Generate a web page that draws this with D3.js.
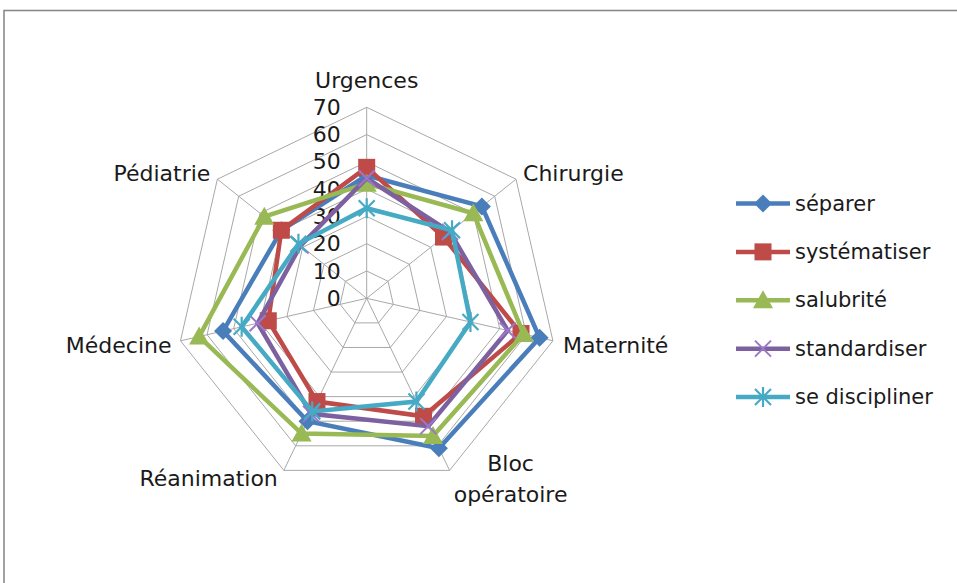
<!DOCTYPE html>
<html>
<head>
<meta charset="utf-8">
<script src="https://cdn.jsdelivr.net/npm/d3@7"></script>
<style>
  html, body { margin: 0; padding: 0; background: #fff; }
  svg { display: block; }
  text { font-family: "DejaVu Sans", sans-serif; fill: #1a1a1a; }
</style>
</head>
<body>
<script>
// Hospital services (radar axes)
const categories = ["Urgences", "Chirurgie", "Maternité", "Bloc opératoire", "Réanimation", "Médecine", "Pédiatrie"];
// Scores per service, one array per series
const separer       = [45, 54, 65, 61, 50, 54, 40];
const systematiser  = [48, 36, 58, 48, 42, 37, 40];
const salubrite     = [42, 50, 59, 56, 55, 63, 48];
const standardiser  = [44, 39, 53, 52, 47, 41, 31];
const seDiscipliner = [33, 40, 39, 42, 46, 47, 32];
const seriesNames = ["séparer", "systématiser", "salubrité", "standardiser", "se discipliner"];
const tickValues = [0, 10, 20, 30, 40, 50, 60, 70];

const series = [
  { name: seriesNames[0], values: separer,       color: "#4a7ebb", marker: "diamond" },
  { name: seriesNames[1], values: systematiser,  color: "#be4b48", marker: "square" },
  { name: seriesNames[2], values: salubrite,     color: "#98b954", marker: "triangle" },
  { name: seriesNames[3], values: standardiser,  color: "#7d60a0", marker: "cross" },
  { name: seriesNames[4], values: seDiscipliner, color: "#46aac5", marker: "star" }
];

const W = 957, H = 583;
const cx = 366.7, cy = 298.3;
const svg = d3.select("body").append("svg").attr("width", W).attr("height", H);

// chart frame
svg.append("rect").attr("x", 4).attr("y", 10.5).attr("width", 1000).attr("height", 700)
  .attr("fill", "#fff").attr("stroke", "#8a8a8a").attr("stroke-width", 1.6);

const r = d3.scaleLinear().domain([0, 70]).range([0, 191]);
const angle = d3.scaleLinear().domain([0, categories.length]).range([0, 2 * Math.PI]);
const pt = (i, v) => [cx + r(v) * Math.sin(angle(i)), cy - r(v) * Math.cos(angle(i))];

const g = svg.append("g");

// grid rings
const ring = d3.line();
tickValues.slice(1).forEach(t => {
  const pts = categories.map((c, i) => pt(i, t));
  g.append("path").attr("d", ring(pts) + "Z")
    .attr("fill", "none").attr("stroke", "#a8a8a8").attr("stroke-width", 1);
});
// spokes
categories.forEach((c, i) => {
  const [x, y] = pt(i, 70);
  g.append("line").attr("x1", cx).attr("y1", cy).attr("x2", x).attr("y2", y)
    .attr("stroke", "#a8a8a8").attr("stroke-width", 1);
});

// radial tick labels
tickValues.forEach(t => {
  g.append("text").attr("x", cx - 26).attr("y", cy - r(t))
    .attr("text-anchor", "end").attr("dominant-baseline", "central")
    .attr("font-size", 22).text(t);
});

// category labels
const labelPos = [
  { dx: 0,   dy: -27, anchor: "middle" },
  { dx: 7,   dy: -6,  anchor: "start" },
  { dx: 10,  dy: 4,   anchor: "start" },
  { dx: 61,  dy: -7,  anchor: "middle" },
  { dx: -6,  dy: 8,   anchor: "end" },
  { dx: -9,  dy: 4,   anchor: "end" },
  { dx: -7,  dy: -6,  anchor: "end" }
];
categories.forEach((c, i) => {
  const [x, y] = pt(i, 70);
  const p = labelPos[i];
  const words = c === "Bloc opératoire" ? ["Bloc", "opératoire"] : [c];
  const t = g.append("text").attr("x", x + p.dx).attr("y", y + p.dy)
    .attr("text-anchor", p.anchor).attr("dominant-baseline", "central").attr("font-size", 22);
  words.forEach((w, k) => {
    t.append("tspan").attr("x", x + p.dx).attr("dy", k === 0 ? 0 : 31).text(w);
  });
});

// marker drawing
function drawMarker(sel, type, color, x, y) {
  const m = sel.append("g").attr("transform", `translate(${x},${y})`);
  if (type === "diamond") {
    m.append("path").attr("d", "M0,-9L9,0L0,9L-9,0Z").attr("fill", color);
  } else if (type === "square") {
    m.append("rect").attr("x", -8.5).attr("y", -8.5).attr("width", 17).attr("height", 17).attr("fill", color);
  } else if (type === "triangle") {
    m.append("path").attr("d", "M0,-10L10,8L-10,8Z").attr("fill", color);
  } else if (type === "cross") {
    m.append("path").attr("d", "M-8,-8L8,8M8,-8L-8,8").attr("stroke", d3.color(color).brighter(0.6)).attr("stroke-width", 2);
  } else if (type === "star") {
    m.append("path").attr("d", "M-8,-8L8,8M8,-8L-8,8M0,-10L0,10").attr("stroke", color).attr("stroke-width", 2.2);
  }
}

// series polygons
const line = d3.line();
series.forEach(s => {
  const pts = s.values.map((v, i) => pt(i, v));
  g.append("path").attr("d", line(pts) + "Z")
    .attr("fill", "none").attr("stroke", s.color).attr("stroke-width", 4.5)
    .attr("stroke-linejoin", "miter");
  pts.forEach(p => drawMarker(g, s.marker, s.color, p[0], p[1]));
});

// legend
const legendY = d3.scaleLinear().domain([0, 4]).range([203.5, 397]);
series.forEach((s, k) => {
  const y = legendY(k);
  const lg = svg.append("g");
  lg.append("line").attr("x1", 736).attr("x2", 790).attr("y1", y).attr("y2", y)
    .attr("stroke", s.color).attr("stroke-width", 4.5);
  drawMarker(lg, s.marker, s.color, 763, y);
  lg.append("text").attr("x", 795).attr("y", y).attr("dominant-baseline", "central")
    .attr("font-size", 21).text(s.name);
});
</script>
</body>
</html>
